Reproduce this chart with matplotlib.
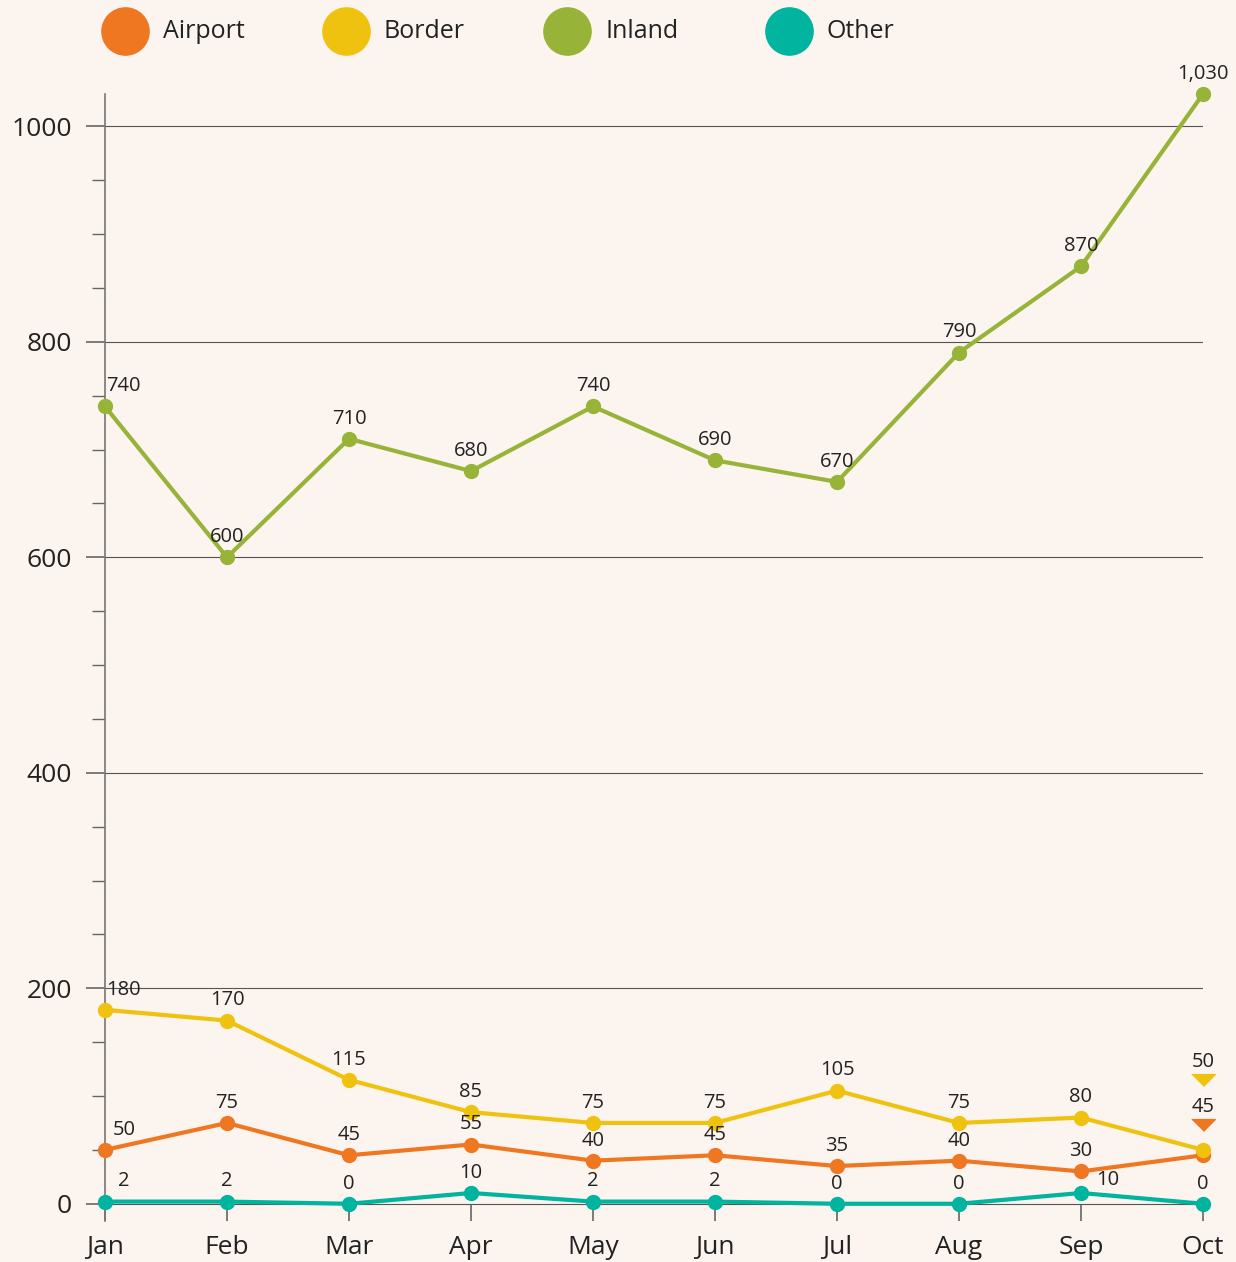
import numpy as np
import matplotlib
matplotlib.use('Agg')
import matplotlib.pyplot as plt
from matplotlib.ticker import MultipleLocator
from matplotlib.transforms import ScaledTranslation

plt.rcParams['font.family'] = ['Open Sans', 'DejaVu Sans']

months = ['Jan', 'Feb', 'Mar', 'Apr', 'May', 'Jun', 'Jul', 'Aug', 'Sep', 'Oct']
series_names = ['Airport', 'Border', 'Inland', 'Other']
airport = [50, 75, 45, 55, 40, 45, 35, 40, 30, 45]
border = [180, 170, 115, 85, 75, 75, 105, 75, 80, 50]
inland = [740, 600, 710, 680, 740, 690, 670, 790, 870, 1030]
other = [2, 2, 0, 10, 2, 2, 0, 0, 10, 0]
colors = ['#EF7722', '#F0C210', '#97B438', '#00B4A0']

bg = '#FCF4EE'
txt = '#222222'

fig = plt.figure(figsize=(12.36, 12.62), dpi=100, facecolor=bg)
ax = fig.add_axes([105/1236, 41/1262, (1203-105)/1236, (1221-94)/1262])
ax.set_facecolor(bg)

x = np.arange(len(months))
data = [airport, border, inland, other]

ax.set_ylim(-16, 1030)
ax.set_xlim(0, len(months) - 1)
ax.yaxis.set_major_locator(MultipleLocator(200))
ax.yaxis.set_minor_locator(MultipleLocator(50))
ax.grid(axis='y', which='major', color='#555555', lw=0.8)
ax.set_axisbelow(True)

for s, (name, vals, c) in enumerate(zip(series_names, data, colors)):
    ax.plot(x, vals, color=c, lw=3, marker='o', ms=10, clip_on=False, zorder=3 + s * 0.1)

# value labels; a few get nudged where they would collide
tri = [(-1, 0.5), (1, 0.5), (0, -0.5)]
for s, (name, vals, c) in enumerate(zip(series_names, data, colors)):
    for i, v in enumerate(vals):
        dx, dy = 0, 14.5
        if i == 0:
            dx = 13.5
        if name == 'Other' and months[i] == 'Sep':
            dx, dy = 19, 9
        if i == len(vals) - 1 and name in ('Airport', 'Border'):
            dy = 35 if name == 'Airport' else 63
            trans = ax.transData + ScaledTranslation(0, (dy - 13) / 72, fig.dpi_scale_trans)
            ax.plot([x[i]], [v], marker=tri, ms=17, color=c, ls='none',
                    transform=trans, clip_on=False, zorder=6)
        ax.annotate('{:,}'.format(v), (x[i], v), xytext=(dx, dy), textcoords='offset points',
                    ha='center', va='center', fontsize=14.5, color=txt, zorder=7,
                    annotation_clip=False)

ax.set_xticks(x)
ax.set_xticklabels(months)
ax.set_yticks([0, 200, 400, 600, 800, 1000])
ax.tick_params(axis='x', direction='in', length=12.5, width=1.2, color='#666666',
               labelsize=19, labelcolor=txt, pad=10)
ax.tick_params(axis='y', which='major', direction='out', length=13.7, width=1.2,
               color='#666666', labelsize=19, labelcolor=txt, pad=10)
ax.tick_params(axis='y', which='minor', direction='out', length=9.4, width=1.0,
               color='#666666')

for side in ['top', 'right', 'bottom']:
    ax.spines[side].set_visible(False)
ax.spines['left'].set_color('#777777')
ax.spines['left'].set_linewidth(1.2)

# legend row across the top
leg_x = [125, 346, 567, 789]
for lx, name, c in zip(leg_x, series_names, colors):
    fig.add_artist(plt.Line2D([lx/1236], [1 - 31/1262], marker='o', ms=34, color=c,
                              ls='none', transform=fig.transFigure))
    fig.text((lx + 38)/1236, 1 - 31/1262, name, fontsize=18, color=txt,
             ha='left', va='center')

plt.savefig('out.png', dpi=100, facecolor=bg)
